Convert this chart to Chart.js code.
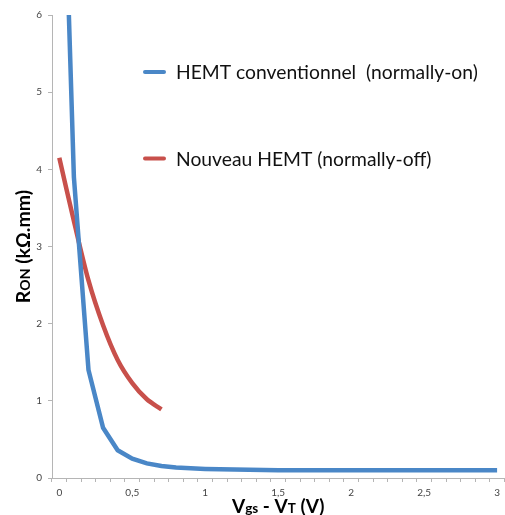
<!DOCTYPE html>
<html>
<head>
<meta charset="utf-8">
<script src="https://cdn.jsdelivr.net/npm/chart.js@4"></script>
<style>
html, body { margin: 0; padding: 0; background: #fff; }
#wrap { width: 505px; height: 515px; }
</style>
</head>
<body>
<div id="wrap"><canvas id="ronChart"></canvas></div>
<script>
// Données
const vgs = [0, 0.1, 0.2, 0.3, 0.4, 0.5, 0.6, 0.7, 0.8, 0.9, 1, 1.1, 1.2, 1.3, 1.4, 1.5,
             1.6, 1.7, 1.8, 1.9, 2, 2.1, 2.2, 2.3, 2.4, 2.5, 2.6, 2.7, 2.8, 2.9, 3];
const ronConventionnel = [10, 3.9, 1.4, 0.65, 0.36, 0.25, 0.19, 0.155, 0.135, 0.125, 0.117, 0.112, 0.11, 0.108, 0.105, 0.1,
                          0.1, 0.1, 0.1, 0.1, 0.1, 0.1, 0.1, 0.1, 0.1, 0.1, 0.1, 0.1, 0.1, 0.1, 0.1];
const ronNouveau = [4.15, 3.33, 2.56, 1.98, 1.53, 1.23, 1.02, 0.89];
const seriesLabels = ['HEMT conventionnel  (normally-on)', 'Nouveau HEMT (normally-off)'];

const FONT = 'Lato';
const AXIS_GREY = '#b5b5b5';

// Titres d'axes avec indices (R_ON, V_gs, V_T)
function drawRich(ctx, segs, cx, cy, rotate) {
    ctx.save();
    ctx.translate(cx, cy);
    if (rotate) ctx.rotate(-Math.PI / 2);
    let total = 0;
    segs.forEach(s => {
        ctx.font = `bold ${s[1]}px ${FONT}`;
        total += ctx.measureText(s[0]).width;
    });
    let x = -total / 2;
    ctx.fillStyle = '#000';
    ctx.textBaseline = 'alphabetic';
    ctx.textAlign = 'left';
    segs.forEach(s => {
        ctx.font = `bold ${s[1]}px ${FONT}`;
        ctx.fillText(s[0], x, 0);
        x += ctx.measureText(s[0]).width;
    });
    ctx.restore();
}

const annotations = {
    id: 'annotations',
    afterDraw(chart) {
        const ctx = chart.ctx;
        const area = chart.chartArea;

        drawRich(ctx, [['R', 19.5], ['ON', 14], [' (kΩ.mm)', 19.5]], 30, (area.top + area.bottom) / 2, true);
        drawRich(ctx, [['V', 19], ['gs', 13.5], [' - V', 19], ['T', 13.5], [' (V)', 19]], (area.left + area.right) / 2, 513, false);

        // légende dans la zone du graphique
        const rows = [72, 158.5];
        chart.data.datasets.forEach((ds, i) => {
            ctx.save();
            ctx.strokeStyle = ds.borderColor;
            ctx.lineWidth = 4;
            ctx.lineCap = 'round';
            ctx.beginPath();
            ctx.moveTo(145, rows[i]);
            ctx.lineTo(164, rows[i]);
            ctx.stroke();
            ctx.fillStyle = '#111';
            ctx.font = `19.3px ${FONT}`;
            ctx.textBaseline = 'middle';
            ctx.fillText(ds.label, 176, rows[i] + 1);
            ctx.restore();
        });
    }
};

const ctx = document.getElementById('ronChart').getContext('2d');
const ronChart = new Chart(ctx, {
    type: 'line',
    data: {
        labels: vgs.map(v => String(v).replace('.', ',')),
        datasets: [
            { label: seriesLabels[0], data: ronConventionnel, borderColor: '#4a87c7', borderWidth: 4.5, tension: 0, pointRadius: 0, clip: 0 },
            { label: seriesLabels[1], data: ronNouveau, borderColor: '#c8504b', borderWidth: 4.5, tension: 0.3, pointRadius: 0, clip: 0 }
        ]
    },
    options: {
        responsive: true,
        maintainAspectRatio: false,
        animation: false,
        layout: { padding: { left: 0, top: 15, right: 0, bottom: 0 } },
        plugins: {
            legend: { display: false },
            tooltip: { enabled: false }
        },
        scales: {
            x: {
                type: 'category',
                offset: true,
                afterFit: s => { s.height = 37; },
                grid: { offset: true, drawOnChartArea: false, drawTicks: true, tickLength: 4, color: AXIS_GREY },
                border: { color: AXIS_GREY },
                ticks: {
                    autoSkip: false,
                    maxRotation: 0,
                    padding: 5,
                    color: '#444',
                    font: { family: FONT, size: 10 },
                    callback: (value, index) => index % 5 === 0 ? String(vgs[index]).replace('.', ',') : ''
                }
            },
            y: {
                min: 0,
                max: 6,
                afterFit: s => { s.width = 52; },
                grid: { drawOnChartArea: false, drawTicks: true, tickLength: 4, color: AXIS_GREY },
                border: { color: AXIS_GREY },
                ticks: {
                    stepSize: 1,
                    padding: 6,
                    color: '#444',
                    font: { family: FONT, size: 10 }
                }
            }
        }
    },
    plugins: [annotations]
});
</script>
</body>
</html>
